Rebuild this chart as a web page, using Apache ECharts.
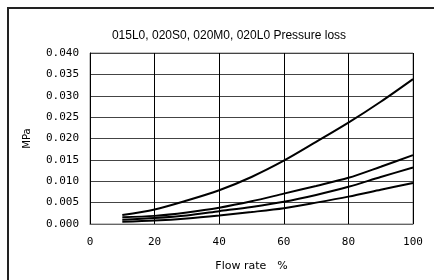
<!DOCTYPE html>
<html><head><meta charset="utf-8">
<script src="https://cdn.jsdelivr.net/npm/echarts@6/dist/echarts.min.js"></script>
<style>html,body{margin:0;padding:0;background:#fff}#c{width:434px;height:280px}</style>
</head><body><div id="c"></div>
<script>
const titleText = "015L0, 020S0, 020M0, 020L0 Pressure loss";
const xName = "Flow rate　%";
const yName = "MPa";
const flowRate = [10, 20, 30, 40, 50, 60, 70, 80, 90, 100];
const curveA = [0.0021, 0.0034, 0.0055, 0.0079, 0.0110, 0.0148, 0.0192, 0.0237, 0.0286, 0.0339];
const curveB = [0.0016, 0.0019, 0.0027, 0.0038, 0.0053, 0.0071, 0.0089, 0.0108, 0.0134, 0.0161];
const curveC = [0.0010, 0.0014, 0.0020, 0.0030, 0.0040, 0.0052, 0.0068, 0.0087, 0.0110, 0.0132];
const curveD = [0.0005, 0.0008, 0.0013, 0.0020, 0.0028, 0.0037, 0.0050, 0.0064, 0.0080, 0.0096];

const chart = echarts.init(document.getElementById('c'), null, {renderer: 'canvas'});
const mk = arr => ({
  type: 'line', data: flowRate.map((x, i) => [x, arr[i]]), showSymbol: false, smooth: 0.3,
  lineStyle: {color: '#000', width: 2}, silent: true, z: 5
});
chart.setOption({
  animation: false,
  backgroundColor: '#fff',
  title: {text: titleText, left: 224, top: 25, textAlign: 'center',
    textStyle: {fontFamily: 'Liberation Sans', fontSize: 12, fontWeight: 'normal', color: '#000'}},
  graphic: [{type: 'rect', shape: {x: 8, y: 8, width: 460, height: 300},
    style: {fill: 'none', stroke: '#222', lineWidth: 2}, silent: true}],
  grid: {left: 90, right: 21, top: 53, bottom: 56, show: true, borderColor: '#888', borderWidth: 1},
  xAxis: {type: 'value', min: 0, max: 100, interval: 20,
    name: xName, nameLocation: 'middle', nameGap: 37,
    nameTextStyle: {fontFamily: 'DejaVu Sans', fontSize: 11, color: '#000'},
    axisLine: {show: true, lineStyle: {color: '#666', width: 1}},
    axisTick: {show: false},
    axisLabel: {margin: 13, fontFamily: 'DejaVu Sans Mono', fontSize: 11, color: '#000'},
    splitLine: {show: true, lineStyle: {color: '#000', width: 1}}},
  yAxis: {type: 'value', min: 0, max: 0.04, interval: 0.005,
    name: yName, nameLocation: 'middle', nameGap: 58, nameRotate: 90,
    nameTextStyle: {fontFamily: 'DejaVu Sans', fontSize: 10, color: '#000'},
    axisLine: {show: true, lineStyle: {color: '#000', width: 1}},
    axisTick: {show: false},
    axisLabel: {margin: 11, fontFamily: 'DejaVu Sans Mono', fontSize: 11, color: '#000',
      formatter: v => v.toFixed(3)},
    splitLine: {show: true, lineStyle: {color: '#444', width: 1}}},
  series: [mk(curveA), mk(curveB), mk(curveC), mk(curveD)]
});
</script></body></html>
